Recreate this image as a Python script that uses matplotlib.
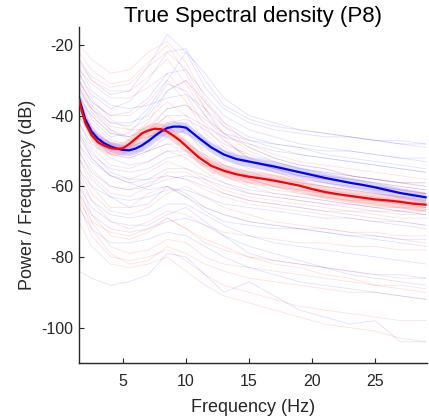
import matplotlib
matplotlib.use("Agg")
import matplotlib.pyplot as plt
import numpy as np

# ── font (MATLAB-like) ──
plt.rcParams.update({
    "font.family": ["Liberation Sans", "DejaVu Sans"],
    "axes.unicode_minus": False,
})

# ── data ──
# frequency grid for single-subject traces
freqs = [1.5, 2.5, 4, 5.5, 7, 8.5, 10, 11.5, 13, 15, 17, 19, 21, 23, 25, 27, 29]

blue_traces = [
    [-24, -30, -34, -33, -26, -17, -22, -32, -38, -42, -44, -45, -46, -46, -47, -47, -48],
    [-28, -34, -38, -36, -30, -22, -21, -30, -37, -41, -43, -44, -45, -46, -47, -48, -49],
    [-30, -36, -40, -39, -35, -28, -27, -34, -40, -44, -46, -48, -49, -50, -51, -52, -53],
    [-33, -38, -42, -42, -40, -33, -30, -36, -42, -46, -48, -49, -51, -52, -53, -54, -55],
    [-26, -33, -37, -38, -37, -35, -34, -38, -43, -47, -49, -51, -52, -53, -54, -55, -56],
    [-35, -40, -45, -46, -44, -40, -40, -43, -46, -48, -50, -51, -52, -53, -54, -55, -56],
    [-38, -44, -48, -49, -47, -42, -41, -44, -48, -51, -53, -55, -56, -57, -58, -59, -60],
    [-32, -39, -44, -47, -46, -44, -45, -48, -51, -53, -55, -57, -58, -59, -60, -61, -62],
    [-40, -46, -51, -52, -50, -46, -44, -47, -50, -53, -55, -56, -57, -58, -59, -60, -61],
    [-36, -43, -48, -50, -50, -48, -48, -51, -54, -56, -58, -60, -61, -62, -63, -64, -65],
    [-42, -48, -52, -54, -53, -50, -50, -52, -55, -57, -58, -59, -60, -61, -62, -63, -63],
    [-45, -51, -55, -56, -55, -52, -51, -54, -56, -58, -60, -61, -62, -63, -64, -65, -66],
    [-48, -53, -57, -59, -58, -55, -55, -57, -59, -61, -62, -63, -64, -65, -66, -67, -67],
    [-50, -56, -60, -61, -60, -58, -57, -58, -60, -62, -63, -64, -65, -66, -67, -67, -68],
    [-44, -50, -56, -58, -58, -57, -58, -60, -62, -64, -65, -66, -67, -68, -69, -70, -71],
    [-55, -60, -63, -64, -63, -61, -61, -63, -65, -66, -67, -68, -69, -69, -70, -71, -72],
    [-52, -58, -63, -66, -65, -60, -62, -66, -68, -70, -71, -72, -73, -74, -75, -76, -77],
    [-58, -64, -68, -69, -68, -65, -65, -68, -71, -74, -76, -77, -78, -79, -80, -81, -82],
    [-62, -68, -72, -73, -72, -70, -69, -71, -74, -77, -79, -81, -83, -84, -85, -85, -86],
    [-66, -72, -76, -76, -75, -73, -74, -77, -80, -83, -85, -87, -88, -89, -90, -91, -92],
    [-84, -86, -88, -87, -85, -79, -80, -85, -90, -87, -91, -95, -97, -99, -98, -104, -104],
    [-30, -37, -42, -43, -38, -30, -22, -28, -35, -40, -42, -44, -45, -46, -47, -48, -48],
    [-34, -41, -46, -45, -39, -31, -33, -40, -45, -47, -48, -49, -50, -50, -51, -52, -52],
    [-39, -45, -50, -49, -44, -38, -37, -41, -45, -49, -52, -54, -55, -57, -58, -59, -59],
    [-46, -52, -57, -59, -61, -60, -63, -67, -70, -71, -72, -72, -73, -74, -74, -75, -75],
    [-60, -66, -70, -71, -71, -68, -66, -70, -74, -79, -81, -82, -83, -85, -86, -87, -88],
]

red_traces = [
    [-20, -24, -28, -27, -22, -19, -25, -35, -42, -48, -51, -53, -54, -55, -56, -57, -58],
    [-22, -27, -31, -30, -25, -20, -28, -38, -45, -50, -53, -55, -56, -57, -58, -59, -60],
    [-25, -30, -33, -33, -29, -24, -31, -40, -47, -52, -54, -56, -57, -58, -59, -60, -61],
    [-27, -31, -35, -35, -32, -28, -34, -43, -49, -53, -55, -57, -58, -59, -60, -61, -62],
    [-30, -36, -40, -40, -36, -30, -36, -45, -50, -54, -56, -58, -59, -60, -61, -62, -63],
    [-32, -38, -43, -44, -41, -36, -40, -47, -52, -55, -57, -59, -60, -61, -62, -63, -64],
    [-28, -35, -41, -44, -44, -42, -45, -50, -54, -57, -59, -61, -62, -63, -64, -65, -66],
    [-36, -42, -47, -48, -45, -40, -44, -51, -55, -58, -60, -62, -63, -64, -65, -66, -66],
    [-38, -44, -49, -51, -49, -45, -47, -52, -56, -59, -61, -62, -63, -64, -64, -65, -65],
    [-40, -46, -51, -52, -50, -48, -50, -54, -57, -60, -62, -63, -64, -65, -66, -67, -68],
    [-42, -49, -54, -55, -53, -50, -52, -56, -59, -62, -63, -64, -65, -65, -66, -66, -67],
    [-45, -52, -57, -58, -56, -53, -55, -58, -61, -63, -64, -65, -66, -67, -67, -68, -68],
    [-48, -55, -60, -61, -59, -57, -58, -61, -63, -65, -66, -67, -68, -69, -70, -70, -71],
    [-52, -60, -66, -66, -62, -60, -63, -66, -68, -70, -71, -72, -72, -73, -73, -74, -74],
    [-56, -64, -70, -72, -70, -67, -68, -71, -73, -74, -75, -76, -76, -77, -77, -78, -78],
    [-58, -68, -74, -75, -73, -69, -72, -76, -78, -80, -81, -82, -83, -84, -85, -86, -86],
    [-60, -70, -77, -79, -78, -75, -76, -80, -82, -83, -84, -85, -86, -87, -88, -88, -89],
    [-62, -72, -79, -82, -81, -77, -79, -82, -84, -86, -87, -88, -89, -90, -90, -91, -92],
    [-65, -74, -80, -81, -80, -78, -81, -85, -88, -90, -92, -94, -95, -96, -97, -98, -98],
    [-70, -77, -82, -83, -82, -80, -84, -88, -91, -93, -95, -97, -99, -100, -101, -103, -104],
    [-55, -62, -67, -68, -66, -62, -60, -63, -66, -68, -70, -71, -72, -73, -74, -75, -76],
    [-34, -40, -45, -46, -43, -38, -37, -42, -47, -52, -55, -57, -58, -59, -60, -61, -62],
    [-24, -29, -32, -31, -26, -22, -27, -36, -43, -49, -52, -54, -55, -57, -58, -59, -59],
    [-31, -38, -44, -46, -42, -33, -30, -38, -46, -53, -56, -58, -59, -60, -61, -62, -62],
    [-50, -57, -62, -63, -60, -56, -56, -59, -62, -64, -65, -66, -67, -67, -68, -69, -69],
    [-64, -70, -73, -74, -72, -69, -72, -75, -77, -80, -82, -83, -85, -86, -88, -89, -90],
]

# group means
mean_freqs = [1.5, 1.75, 2, 2.5, 3, 3.5, 4, 4.5, 5, 5.5, 6, 6.5, 7, 7.5, 8, 8.5, 9, 9.5,
              10, 11, 12, 13, 14, 15, 16, 17, 18, 19, 20, 21, 22, 23, 24, 25, 26, 27, 28, 29]
blue_mean = [-35, -38, -41, -44.5, -46.5, -47.8, -48.7, -49.3, -49.7, -49.8, -49.3, -48.4,
             -47.2, -45.8, -44.5, -43.5, -43.1, -43.1, -43.4, -46.3, -49.0, -51.0, -52.3,
             -53.0, -53.7, -54.4, -55.2, -56.0, -56.8, -57.6, -58.3, -59.0, -59.6, -60.3,
             -61.1, -61.9, -62.5, -63.1]
red_mean = [-35.5, -39, -42, -45.5, -47.5, -48.5, -49.2, -49.4, -49.2, -48.0, -46.5, -45.0,
            -44.2, -43.7, -43.8, -44.5, -45.7, -47.0, -48.6, -51.8, -54.2, -55.6, -56.6,
            -57.3, -57.8, -58.4, -59.1, -59.8, -60.8, -61.6, -62.2, -62.7, -63.2, -63.7,
            -64.0, -64.4, -64.9, -65.2]
blue_sem = 1.5
red_sem = 1.8

# ── plot ──
fig = plt.figure(figsize=(4.29, 4.18), dpi=100)
ax = fig.add_axes([0.184, 0.1316, 0.811, 0.803])

for tr_b, tr_r in zip(blue_traces, red_traces):
    ax.plot(freqs, tr_b, color="blue", lw=0.6, alpha=0.12, zorder=1)
    ax.plot(freqs, tr_r, color="red", lw=0.6, alpha=0.12, zorder=1)

bm = np.array(blue_mean)
rm = np.array(red_mean)
ax.fill_between(mean_freqs, bm - blue_sem, bm + blue_sem, color="#8080ff", alpha=0.3, lw=0, zorder=2)
ax.fill_between(mean_freqs, rm - red_sem, rm + red_sem, color="#ff8080", alpha=0.3, lw=0, zorder=2)
ax.plot(mean_freqs, blue_mean, color="blue", lw=1.6, zorder=3)
ax.plot(mean_freqs, red_mean, color="red", lw=1.6, zorder=3)

ax.set_xlim(1.5, 29.1)
ax.set_ylim(-110, -15)
ax.set_xticks([5, 10, 15, 20, 25])
ax.set_yticks([-100, -80, -60, -40, -20])

axis_col = "#262626"
for s in ["top", "right"]:
    ax.spines[s].set_visible(False)
for s in ["left", "bottom"]:
    ax.spines[s].set_color(axis_col)
    ax.spines[s].set_linewidth(1.0)
ax.tick_params(axis="both", direction="in", length=3.5, width=0.8,
               colors=axis_col, labelsize=11.5)
ax.tick_params(axis="x", pad=8)
ax.tick_params(axis="y", pad=4)

ax.set_xlabel("Frequency (Hz)", fontsize=13, color=axis_col, labelpad=7)
ax.set_ylabel("Power / Frequency (dB)", fontsize=13, color=axis_col, labelpad=4)
ax.set_title("True Spectral density (P8)", fontsize=16, color="black", pad=3)

fig.savefig("out.png", dpi=100)
